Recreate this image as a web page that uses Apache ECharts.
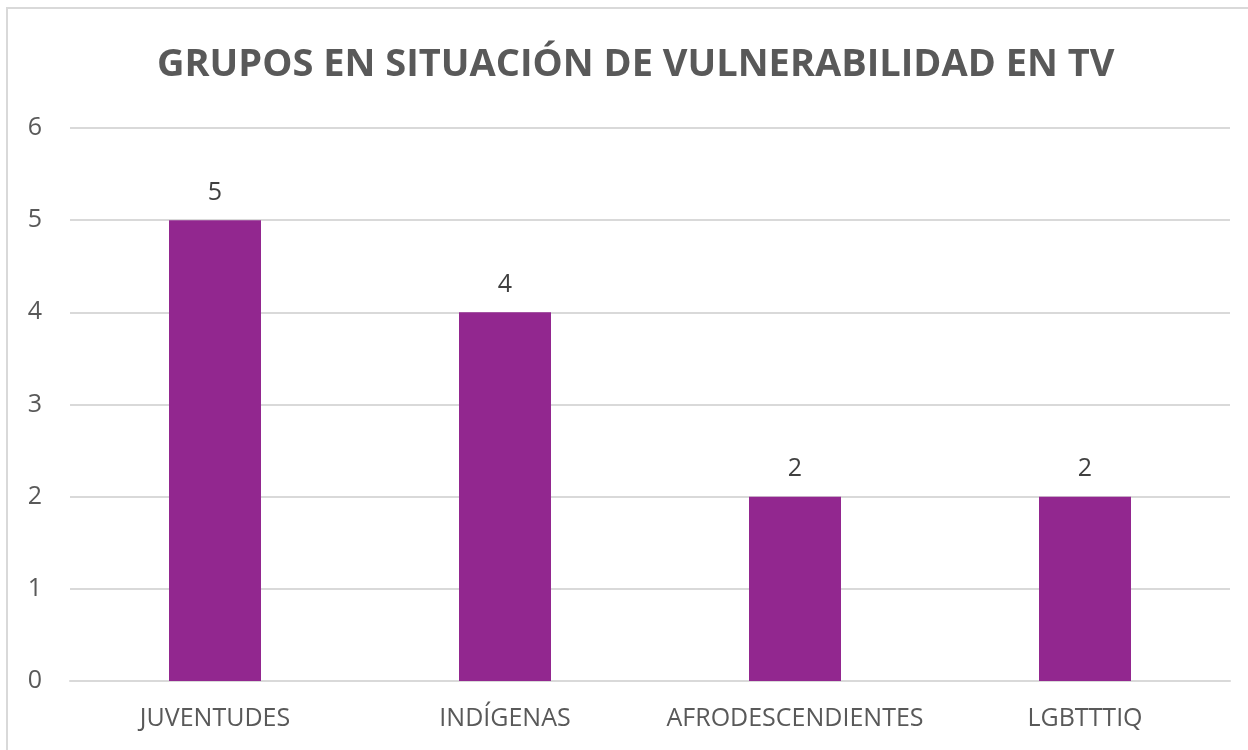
<!DOCTYPE html>
<html>
<head>
<meta charset="utf-8">
<script src="https://cdn.jsdelivr.net/npm/echarts@6/dist/echarts.min.js"></script>
<style>
html,body{margin:0;padding:0;background:#fff;}
#chart{width:1248px;height:750px;}
</style>
</head>
<body>
<div id="chart"></div>
<script>
// datos del gráfico
var categorias = ['JUVENTUDES', 'INDÍGENAS', 'AFRODESCENDIENTES', 'LGBTTTIQ'];
var valores = [5, 4, 2, 2];
var ejeY = {min: 0, max: 6, interval: 1};

var myChart = echarts.init(document.getElementById('chart'));
var option = {
    animation: false,
    backgroundColor: '#fff',
    title: {
        text: 'GRUPOS EN SITUACIÓN DE VULNERABILIDAD EN TV',
        left: 152,
        top: 41,
        textStyle: {
            color: '#595959',
            fontFamily: 'Open Sans',
            fontWeight: 'bold',
            fontSize: 38
        }
    },
    graphic: [{
        type: 'rect',
        shape: {x: 7, y: 8, width: 1400, height: 900},
        style: {fill: 'none', stroke: '#d9d9d9', lineWidth: 2},
        silent: true
    }],
    grid: {
        left: 70,
        right: 18,
        top: 128,
        bottom: 69
    },
    xAxis: {
        type: 'category',
        data: categorias,
        axisLine: {lineStyle: {color: '#d9d9d9', width: 2}},
        axisTick: {show: false},
        axisLabel: {
            interval: 0,
            color: '#595959',
            fontFamily: 'Open Sans',
            fontSize: 25,
            margin: 25
        }
    },
    yAxis: {
        type: 'value',
        min: ejeY.min,
        max: ejeY.max,
        interval: ejeY.interval,
        axisLine: {show: false},
        axisTick: {show: false},
        splitLine: {lineStyle: {color: '#d9d9d9', width: 2}},
        axisLabel: {
            color: '#595959',
            fontFamily: 'Open Sans',
            fontSize: 25,
            margin: 28
        }
    },
    series: [{
        type: 'bar',
        data: valores,
        barWidth: 92,
        itemStyle: {color: '#92278F'},
        label: {
            show: true,
            position: 'top',
            distance: 15,
            color: '#404040',
            fontFamily: 'Open Sans',
            fontSize: 25
        }
    }]
};
myChart.setOption(option);
</script>
</body>
</html>
